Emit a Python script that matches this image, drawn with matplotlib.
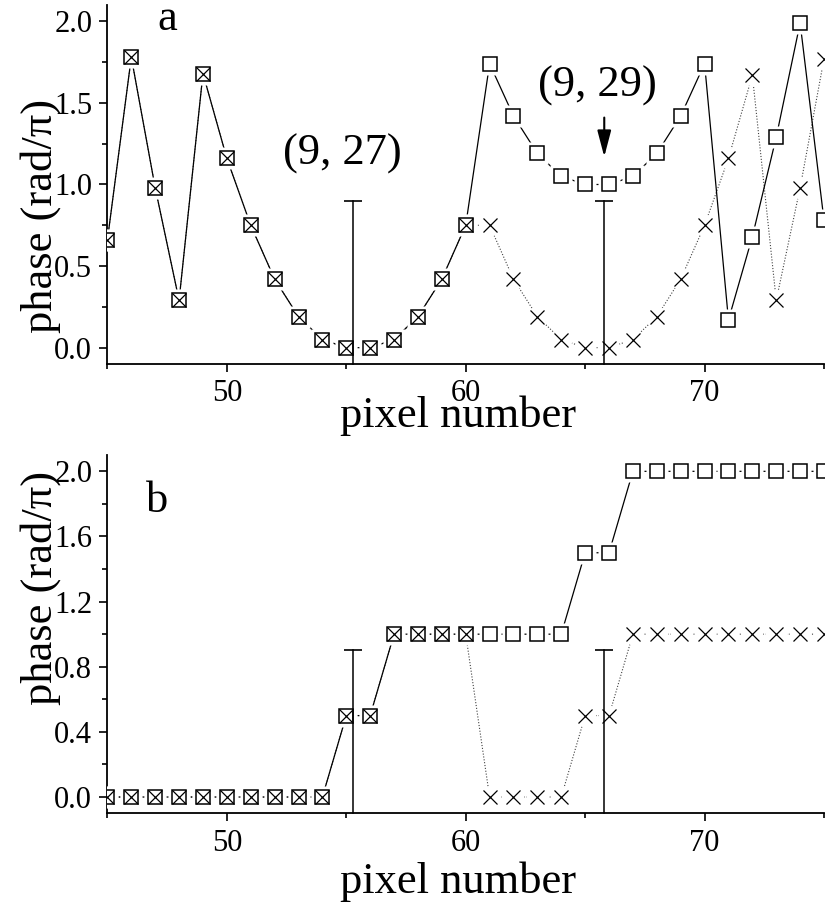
import matplotlib
matplotlib.use('Agg')
import matplotlib.pyplot as plt
from matplotlib.ticker import MultipleLocator, FormatStrFormatter

plt.rcParams['font.family'] = ['Liberation Serif', 'DejaVu Serif']

pixels = list(range(45, 76))

a_square = [0.66, 1.78, 0.98, 0.29, 1.68, 1.16, 0.75, 0.42, 0.19, 0.05, 0.0, 0.0,
            0.05, 0.19, 0.42, 0.75, 1.74, 1.42, 1.19, 1.05, 1.0, 1.0, 1.05, 1.19,
            1.42, 1.74, 0.17, 0.68, 1.29, 1.99, 0.78]
a_cross = [0.66, 1.78, 0.98, 0.29, 1.68, 1.16, 0.75, 0.42, 0.19, 0.05, 0.0, 0.0,
           0.05, 0.19, 0.42, 0.75, 0.75, 0.42, 0.19, 0.05, 0.0, 0.0, 0.05, 0.19,
           0.42, 0.75, 1.16, 1.67, 0.29, 0.98, 1.77]

b_square = [0.0, 0.0, 0.0, 0.0, 0.0, 0.0, 0.0, 0.0, 0.0, 0.0, 0.5, 0.5,
            1.0, 1.0, 1.0, 1.0, 1.0, 1.0, 1.0, 1.0, 1.5, 1.5, 2.0, 2.0,
            2.0, 2.0, 2.0, 2.0, 2.0, 2.0, 2.0]
b_cross = [0.0, 0.0, 0.0, 0.0, 0.0, 0.0, 0.0, 0.0, 0.0, 0.0, 0.5, 0.5,
           1.0, 1.0, 1.0, 1.0, 0.0, 0.0, 0.0, 0.0, 0.5, 0.5, 1.0, 1.0,
           1.0, 1.0, 1.0, 1.0, 1.0, 1.0, 1.0]

bar_x = [55.3, 65.8]
bar_top = [0.9, 0.9]
y_bottom = -0.1

label_a = "a"
label_b = "b"
note_27 = "(9, 27)"
note_29 = "(9, 29)"

fig = plt.figure(figsize=(8.25, 9.07), dpi=100)
ax1 = fig.add_axes([0.1302, 0.5987, 0.8686, 0.3958])
ax2 = fig.add_axes([0.1302, 0.1033, 0.8686, 0.3950])

BIG = 32
TICK = 22


def draw_panel(ax, sq, cr, major, minor):
    ax.plot(pixels, cr, color='0.25', lw=0.8, ls=(0, (1, 1.6)), zorder=2)
    ax.plot(pixels, sq, color='k', lw=0.9, ls='-', zorder=2)
    # white gaps around symbols (Origin style)
    ax.plot(pixels, sq, ls='none', marker='s', ms=15.5, mfc='white', mec='none', zorder=3)
    ax.plot(pixels, cr, ls='none', marker='o', ms=15.5, mfc='white', mec='none', zorder=3)
    for xv, tv in zip(bar_x, bar_top):
        ax.plot([xv, xv], [y_bottom, tv], color='k', lw=1.1, zorder=4.5, clip_on=False)
        ax.plot([xv], [tv], marker='_', ms=13, mew=1.2, color='k', zorder=4.5)
    ax.plot(pixels, sq, ls='none', marker='s', ms=10, mfc='white', mec='k', mew=1.1, zorder=4)
    ax.plot(pixels, cr, ls='none', marker='x', ms=10, mec='k', mew=0.9, zorder=5)
    ax.set_xlim(45, 75)
    ax.set_ylim(-0.1, 2.1)
    ax.xaxis.set_major_locator(MultipleLocator(10))
    ax.xaxis.set_minor_locator(MultipleLocator(5))
    ax.yaxis.set_major_locator(MultipleLocator(major))
    ax.yaxis.set_minor_locator(MultipleLocator(minor))
    ax.yaxis.set_major_formatter(FormatStrFormatter('%.1f'))
    ax.spines['top'].set_visible(False)
    ax.spines['right'].set_visible(False)
    for s in ('left', 'bottom'):
        ax.spines[s].set_linewidth(1.3)
    ax.tick_params(which='major', direction='out', length=6, width=1.2,
                   labelsize=TICK, pad=5)
    ax.tick_params(which='minor', direction='out', length=3.5, width=1.2)
    ax.set_xlabel('pixel number', fontsize=BIG, va='baseline')
    ax.set_ylabel('phase (rad/π)', fontsize=BIG, va='center')


draw_panel(ax1, a_square, a_cross, 0.5, 0.25)
draw_panel(ax2, b_square, b_cross, 0.4, 0.2)

ax1.xaxis.set_label_coords(0.489, -0.175)
ax2.xaxis.set_label_coords(0.489, -0.2235)
ax1.yaxis.set_label_coords(-0.0935, 0.411)
ax2.yaxis.set_label_coords(-0.0935, 0.628)

ax1.text(47.52, 1.949, label_a, fontsize=BIG, ha='center', va='baseline')
ax2.text(47.06, 1.748, label_b, fontsize=BIG, ha='center', va='baseline')
ax1.text(54.82, 1.12, note_27, fontsize=BIG, ha='center', va='baseline')
ax1.text(65.5, 1.537, note_29, fontsize=BIG, ha='center', va='baseline')
ax1.annotate('', xy=(65.8, 1.17), xytext=(65.8, 1.41),
             arrowprops=dict(arrowstyle='-|>,head_length=1.6,head_width=0.42',
                             mutation_scale=10, lw=1.5, color='k',
                             shrinkA=0, shrinkB=0), zorder=6)

fig.savefig('out.png', dpi=100)
